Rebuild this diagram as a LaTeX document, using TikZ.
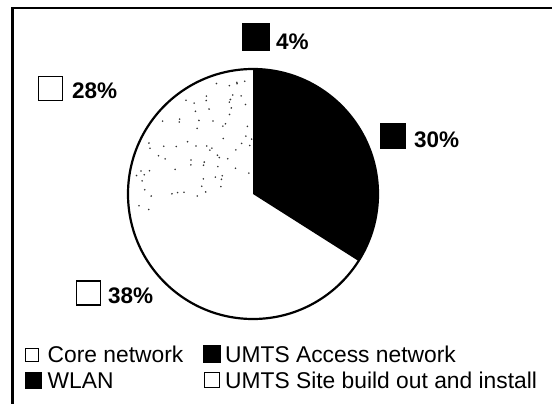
\documentclass[tikz,border=0pt]{standalone}
\usepackage{fontspec}
\setmainfont{Liberation Sans}
\begin{document}
\begin{tikzpicture}[x=1pt,y=-1pt,
  pct/.style={font=\fontsize{22.5}{26}\selectfont\bfseries, anchor=base west, inner sep=0pt},
  leg/.style={font=\fontsize{22.8}{26}\selectfont, anchor=base west, inner sep=0pt},
  blackbox/.style={fill=black, draw=black, inner sep=0pt},
  whitebox/.style={draw=black, line width=1.8pt, fill=white, inner sep=0pt}]
\useasboundingbox (0,0) rectangle (552,404);
% frame
\coordinate (fbl) at (12.5,404);
\coordinate (ftl) at (12.5,8);
\coordinate (ftr) at (552,8);
\draw[line width=2.2pt] (fbl) -- (ftl) -- (ftr);
% pie
\coordinate (c) at (253,194);
\fill[black] (c) -- ++(-90:125) arc[start angle=-90, end angle=32.4, radius=125] -- cycle;
\pgfmathsetseed{7}
\foreach \i in {1,...,75}{
  \pgfmathsetmacro\ang{-91-rnd*99}
  \pgfmathsetmacro\rad{6+112*sqrt(rnd)}
  \fill[black!80] (c) ++(\ang:\rad) circle[radius=0.9];
}
\draw[line width=2.2pt] (c) circle[radius=125];
% labels
\node[blackbox, minimum size=27pt] (b4) at (255.5,36.5) {};
\node[pct] (t4) at (276,50) {4\%};
\node[blackbox, minimum size=25pt] (b30) at (392.5,135.5) {};
\node[pct] (t30) at (414,147) {30\%};
\node[whitebox, minimum size=24pt] (b28) at (50.5,88.5) {};
\node[pct] (t28) at (72,99) {28\%};
\node[whitebox, minimum size=24pt] (b38) at (88.5,293) {};
\node[pct] (t38) at (108,303) {38\%};
% legend
\node[whitebox, line width=1.4pt, minimum size=13pt, anchor=south west] (lc) at (25,362) {};
\node[leg] (tc) at (47.5,362) {Core network};
\node[blackbox, minimum size=17pt, anchor=south west] (la) at (203,362) {};
\node[leg] (ta) at (225,362) {UMTS Access network};
\node[blackbox, minimum size=16pt, anchor=south west] (lw) at (25,388) {};
\node[leg] (tw) at (47.5,388) {WLAN};
\node[whitebox, line width=1.4pt, minimum size=15pt, anchor=south west] (ls) at (204,388) {};
\node[leg] (ts) at (225,388) {UMTS Site build out and install};
\end{tikzpicture}
\end{document}
